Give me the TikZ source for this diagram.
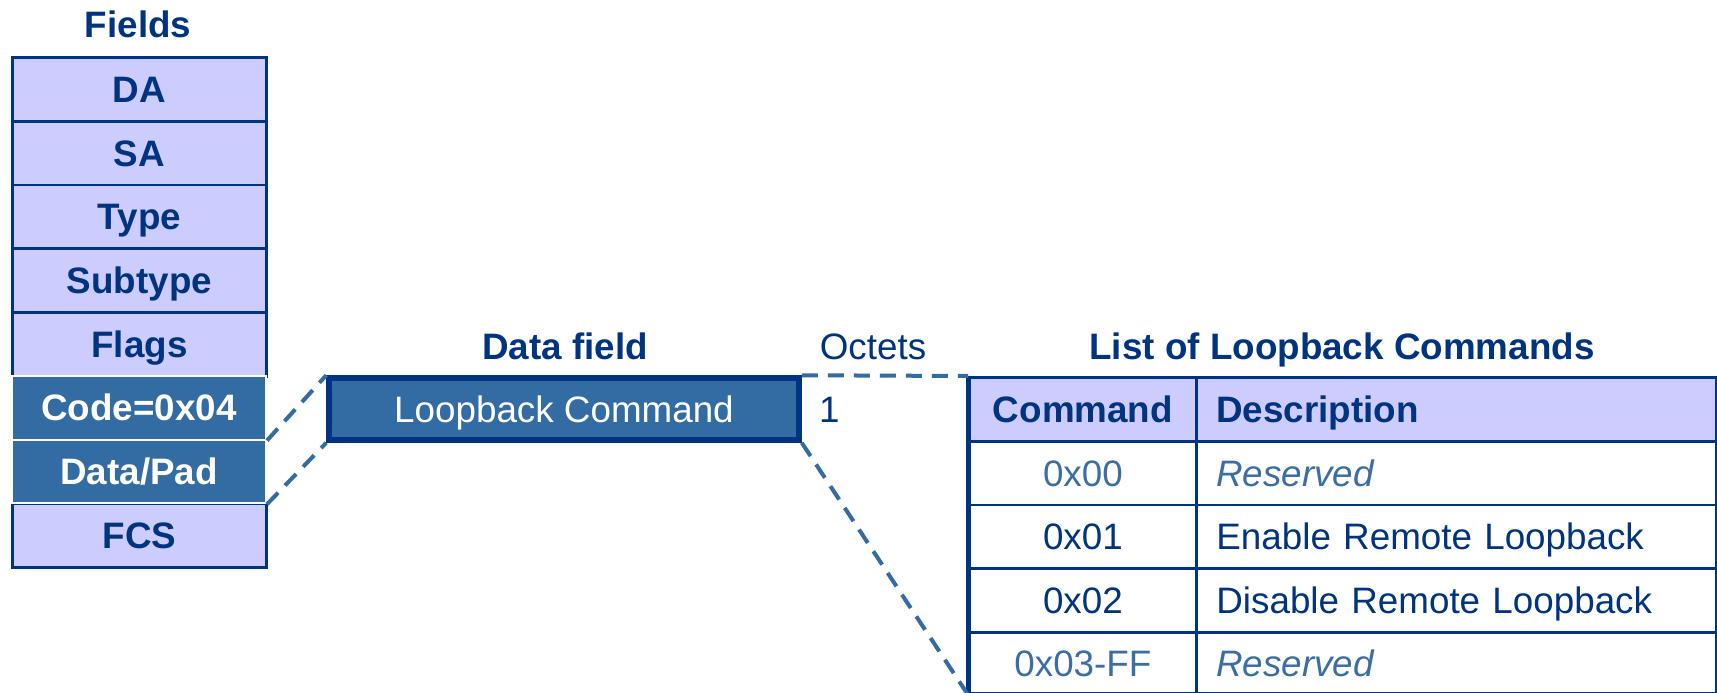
\documentclass[tikz,border=0pt]{standalone}
\usepackage{fontspec}
\setmainfont{Liberation Sans}
\definecolor{navy}{RGB}{0,51,128}
\definecolor{lav}{RGB}{204,204,255}
\definecolor{mid}{RGB}{51,107,163}
\definecolor{soft}{RGB}{58,110,165}
\newcommand{\bigfont}{\fontsize{36.8}{44}\selectfont}
\begin{document}
\begin{tikzpicture}[x=1pt,y=-1pt,
  every node/.style={font=\bigfont, text height=26.3pt, text depth=0pt, inner sep=0pt},
  lrow/.style={draw=navy, line width=2.8pt, fill=lav, text=navy, font=\bigfont\bfseries,
    minimum width=254pt, minimum height=63.75pt, anchor=north west},
  drow/.style={draw=white, line width=2pt, fill=mid, text=white, font=\bigfont\bfseries,
    minimum width=254pt, minimum height=63.75pt, anchor=north west},
  title/.style={text=navy, font=\bigfont\bfseries},
  plain/.style={text=navy},
  ccell/.style={draw=navy, line width=2.8pt, minimum width=227pt, minimum height=63.75pt, anchor=north west},
  dcell/.style={draw=navy, line width=2.8pt, text width=480pt, inner xsep=20pt, align=left,
    minimum height=63.75pt, anchor=north west},
  zoomline/.style={draw=mid, line width=4pt, dash pattern=on 16pt off 10pt},
]
\useasboundingbox (0,0) rectangle (1717,693);

% Fields column
\node[title] (ftitle) at (138,24) {Fields};
\node[lrow] (da)   at (11,56)     {DA};
\node[lrow] (sa)   at (11,119.75) {SA};
\node[lrow] (type) at (11,183.5)  {Type};
\node[lrow] (sub)  at (11,247.25) {Subtype};
\node[lrow] (flags) at (11,311)   {Flags};
\node[lrow] (fcs)  at (11,502.25) {FCS};
\node[drow] (code) at (11,374.75) {Code=0x04};
\node[drow] (data) at (11,438.5)  {Data/Pad};

% Data field
\node[title] (dtitle) at (565,346) {Data field};
\node[plain] (octets) at (873,346) {Octets};
\node[draw=navy, line width=5.5pt, fill=mid, text=white, minimum width=470pt, minimum height=62pt]
  (lb) at (564,409) {Loopback Command};
\node[plain, anchor=west] (one) at (819,409) {1};

% Table
\node[title] (ltitle) at (1342,346) {List of Loopback Commands};
\node[ccell, fill=lav, text=navy, font=\bigfont\bfseries] (c0) at (968,376) {Command};
\node[dcell, fill=lav, text=navy, font=\bigfont\bfseries] (d0) at (1195,376) {Description};
\node[ccell, text=soft] (c1) at (968,439.75) {0x00};
\node[dcell, text=soft, font=\bigfont\itshape] (d1) at (1195,439.75) {Reserved};
\node[ccell, text=navy] (c2) at (968,503.5) {0x01};
\node[dcell, text=navy] (d2) at (1195,503.5) {Enable Remote Loopback};
\node[ccell, text=navy] (c3) at (968,567.25) {0x02};
\node[dcell, text=navy] (d3) at (1195,567.25) {Disable Remote Loopback};
\node[ccell, text=soft, minimum height=61pt] (c4) at (968,631) {0x03-FF};
\node[dcell, text=soft, font=\bigfont\itshape, minimum height=61pt] (d4) at (1195,631) {Reserved};
\draw[navy, line width=5pt] (c0.north west) -- (c4.south west);

% zoom connectors
\draw[zoomline] (code.south east) -- (lb.north west);
\draw[zoomline] (data.south east) -- (lb.south west);
\draw[zoomline] (lb.north east) -- (c0.north west);
\draw[zoomline] (lb.south east) -- (c4.south west);
\end{tikzpicture}
\end{document}
